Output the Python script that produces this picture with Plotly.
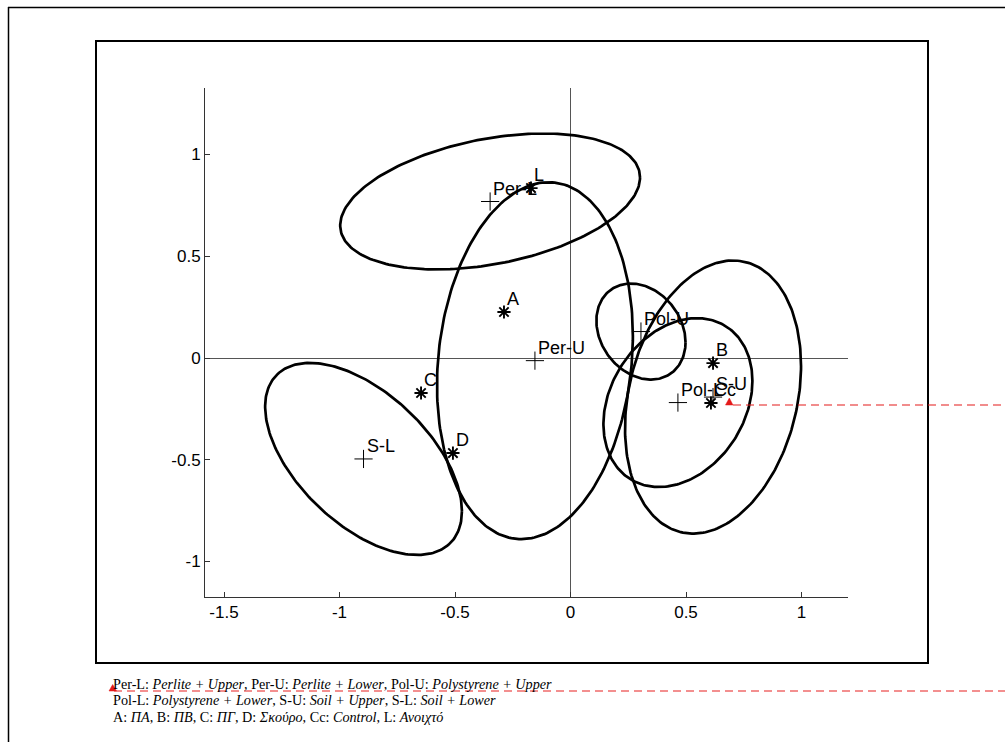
import numpy as np
import plotly.graph_objects as go

# Treatment centroids (drawn as "+") and their confidence ellipses
groups = ["Per-L", "Per-U", "Pol-U", "Pol-L", "S-U", "S-L"]
group_x = [-0.348, -0.154, 0.305, 0.465, 0.617, -0.896]
group_y = [0.769, -0.013, 0.130, -0.219, -0.192, -0.496]
# ellipse half-extent along x, along y and the x-y correlation
ell_sx = [0.649, 0.424, 0.193, 0.3225, 0.381, 0.426]
ell_sy = [0.334, 0.877, 0.236, 0.415, 0.671, 0.472]
ell_rho = [0.353, 0.138, -0.224, 0.255, 0.227, -0.544]

# Colour-filter treatments (drawn as "*")
filters = ["A", "B", "C", "D", "Cc", "L"]
filter_x = [-0.288, 0.617, -0.647, -0.509, 0.608, -0.171]
filter_y = [0.226, -0.025, -0.172, -0.467, -0.221, 0.835]

x_ticks = [-1.5, -1, -0.5, 0, 0.5, 1]
x_tick_text = ["-1.5", "-1", "-0.5", "0", "0.5", "1"]
y_ticks = [-1, -0.5, 0, 0.5, 1]
y_tick_text = ["-1", "-0.5", "0", "0.5", "1"]

legend_lines = [
    "Per-L: <i>Perlite + Upper</i>, Per-U: <i>Perlite + Lower</i>, Pol-U: <i>Polystyrene + Upper</i>",
    "Pol-L: <i>Polystyrene + Lower</i>, S-U: <i>Soil + Upper</i>, S-L: <i>Soil + Lower</i>",
    "A: <i>ΠΑ</i>, B: <i>ΠΒ</i>, C: <i>ΠΓ</i>, D: <i>Σκούρο</i>, Cc: <i>Control</i>, L: <i>Ανοιχτό</i>",
]

W, H = 1005, 742
L, R, T, B = 205, 848, 88, 597
X_RANGE = [-1.5823, 1.2013]
Y_RANGE = [-1.1744, 1.3268]


def px(xp):
    return (xp - L) / (R - L)


def py(yp):
    return (B - yp) / (B - T)


fig = go.Figure()

t = np.linspace(0, 2 * np.pi, 240)
for cx, cy, sx, sy, rho in zip(group_x, group_y, ell_sx, ell_sy, ell_rho):
    ex = cx + sx * np.cos(t)
    ey = cy + sy * (rho * np.cos(t) + np.sqrt(1 - rho ** 2) * np.sin(t))
    fig.add_trace(go.Scatter(x=ex, y=ey, mode="lines",
                             line=dict(color="black", width=2.7),
                             hoverinfo="skip", showlegend=False))

fig.add_trace(go.Scatter(x=group_x, y=group_y, mode="markers",
                         marker=dict(symbol="cross-thin-open", size=13, color="black",
                                     line=dict(color="black", width=1)),
                         showlegend=False))
fig.add_trace(go.Scatter(x=filter_x, y=filter_y, mode="markers",
                         marker=dict(symbol="asterisk-open", size=11, color="black",
                                     line=dict(color="black", width=1.9)),
                         showlegend=False))

annotations = []
for name, x, y in list(zip(groups, group_x, group_y)) + list(zip(filters, filter_x, filter_y)):
    annotations.append(dict(x=x, y=y, xref="x", yref="y", text=name, showarrow=False,
                            xanchor="left", yanchor="middle", xshift=1, yshift=13,
                            font=dict(family="Liberation Sans, Arial", size=18, color="black")))

for i, line in enumerate(legend_lines):
    annotations.append(dict(x=px(111), y=py(683.5 + 16.5 * i), xref="paper", yref="paper",
                            text=line, showarrow=False, xanchor="left", yanchor="middle",
                            font=dict(family="Liberation Serif, Times New Roman", size=14.2,
                                      color="black")))

shapes = [
    # page frame
    dict(type="line", xref="paper", yref="paper", x0=px(8), x1=px(1010), y0=py(7.5), y1=py(7.5),
         line=dict(color="black", width=1.5)),
    dict(type="line", xref="paper", yref="paper", x0=px(8.5), x1=px(8.5), y0=py(7), y1=py(750),
         line=dict(color="black", width=1.5)),
    # figure frame
    dict(type="rect", xref="paper", yref="paper", x0=px(96), x1=px(928), y0=py(41), y1=py(663),
         line=dict(color="black", width=2)),
    # comment markers
    dict(type="line", xref="paper", yref="paper", x0=px(733), x1=px(1010), y0=py(405), y1=py(405),
         line=dict(color="#e41a1a", width=1.2, dash="8px,5px")),
    dict(type="path", xref="paper", yref="paper",
         path="M {:.5f},{:.5f} L {:.5f},{:.5f} L {:.5f},{:.5f} Z".format(
             px(725.5), py(405), px(733), py(405), px(729.3), py(398)),
         fillcolor="#e41a1a", line=dict(color="#e41a1a", width=0.5)),
    dict(type="line", xref="paper", yref="paper", x0=px(114), x1=px(1010), y0=py(691), y1=py(691),
         line=dict(color="#f06b6b", width=1.5, dash="8px,5px")),
    dict(type="path", xref="paper", yref="paper",
         path="M {:.5f},{:.5f} L {:.5f},{:.5f} L {:.5f},{:.5f} Z".format(
             px(109), py(691), px(116.5), py(691), px(112.7), py(684.5)),
         fillcolor="#e41a1a", line=dict(color="#e41a1a", width=0.5)),
]

axis_common = dict(showgrid=False, showline=True, linecolor="#333333", linewidth=1,
                   mirror=False, zeroline=True, zerolinecolor="#555555", zerolinewidth=1,
                   ticks="inside", ticklen=5, tickcolor="#333333", tickwidth=1,
                   tickfont=dict(family="Liberation Sans, Arial", size=17, color="black"))

fig.update_layout(
    width=W, height=H,
    margin=dict(l=L, r=W - R, t=T, b=H - B, autoexpand=False),
    paper_bgcolor="white", plot_bgcolor="white",
    showlegend=False,
    xaxis=dict(range=X_RANGE, tickvals=x_ticks, ticktext=x_tick_text, **axis_common),
    yaxis=dict(range=Y_RANGE, tickvals=y_ticks, ticktext=y_tick_text, **axis_common),
    annotations=annotations,
    shapes=shapes,
)

fig.write_html("out.html")
